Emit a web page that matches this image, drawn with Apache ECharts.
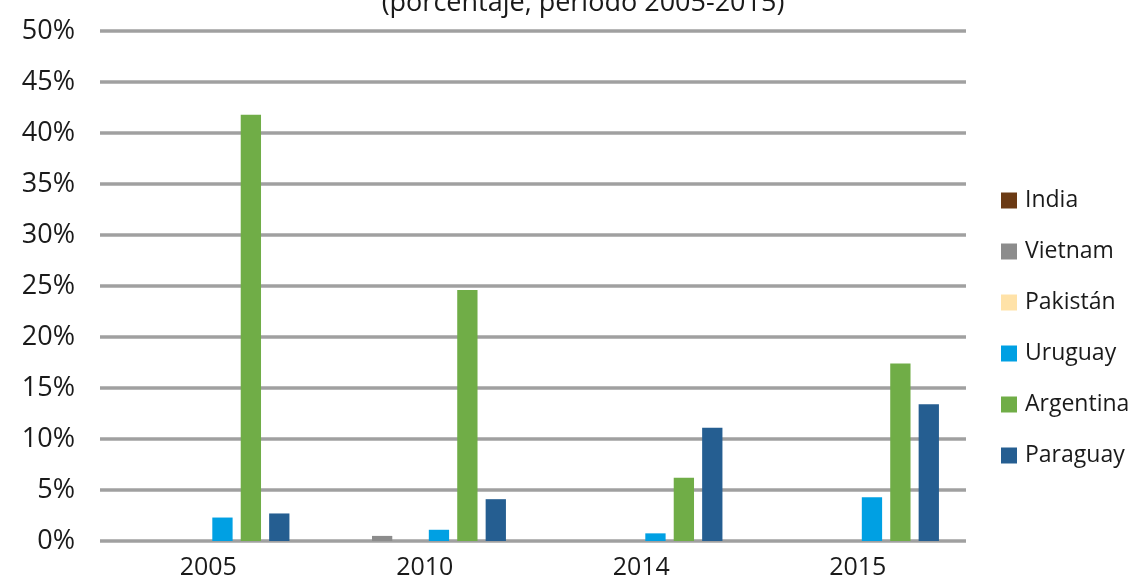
<!DOCTYPE html>
<html>
<head>
<meta charset="utf-8">
<script src="https://cdn.jsdelivr.net/npm/echarts@6/dist/echarts.min.js"></script>
<style>
  html, body { margin: 0; padding: 0; background: #fff; }
  #chart { width: 1145px; height: 583px; }
</style>
</head>
<body>
<div id="chart"></div>
<script>
// datos (porcentaje)
var years = ['2005', '2010', '2014', '2015'];
var seriesNames = ['India', 'Vietnam', 'Pakistán', 'Uruguay', 'Argentina', 'Paraguay'];
var india = [0, 0, 0, 0];
var vietnam = [0, 0.5, 0, 0];
var pakistan = [0, 0, 0, 0];
var uruguay = [2.3, 1.1, 0.75, 4.3];
var argentina = [41.8, 24.6, 6.2, 17.4];
var paraguay = [2.7, 4.1, 11.1, 13.4];
var colors = ['#6b3a14', '#8c8c8c', '#ffe2a8', '#00a0e3', '#70ad47', '#255e91'];

var values = [india, vietnam, pakistan, uruguay, argentina, paraguay];
var font = 'Open Sans';

var series = seriesNames.map(function (name, i) {
    return {
        name: name,
        type: 'bar',
        data: values[i],
        itemStyle: { color: colors[i] },
        barGap: '40%',
        barCategoryGap: '25%'
    };
});

var option = {
    animation: false,
    color: colors,
    title: {
        text: '(porcentaje, periodo 2005-2015)',
        left: 578,
        textAlign: 'center',
        top: -15,
        textStyle: {
            fontFamily: font,
            fontWeight: 'normal',
            fontSize: 27,
            color: '#1a1a1a'
        }
    },
    legend: {
        orient: 'vertical',
        left: 996,
        top: 183,
        itemWidth: 16,
        itemHeight: 16,
        itemGap: 26,
        icon: 'rect',
        textStyle: {
            fontFamily: font,
            fontSize: 23,
            lineHeight: 25,
            color: '#1a1a1a',
            padding: [0, 0, 0, 3]
        },
        data: seriesNames
    },
    grid: {
        left: 100,
        right: 179,
        top: 31,
        bottom: 42,
        containLabel: false
    },
    xAxis: {
        type: 'category',
        data: years,
        axisLine: { show: false },
        axisTick: { show: false },
        axisLabel: {
            fontFamily: font,
            fontSize: 25,
            color: '#1a1a1a',
            margin: 14
        }
    },
    yAxis: {
        type: 'value',
        min: 0,
        max: 50,
        interval: 5,
        axisLine: { show: false },
        axisTick: { show: false },
        splitLine: {
            lineStyle: { color: '#a0a0a0', width: 3.5 }
        },
        axisLabel: {
            fontFamily: font,
            fontSize: 27,
            color: '#1a1a1a',
            margin: 25,
            formatter: '{value}%'
        }
    },
    series: series
};

var myChart = echarts.init(document.getElementById('chart'));
myChart.setOption(option);

window.addEventListener('resize', function () {
    myChart.resize();
});
</script>
</body>
</html>
